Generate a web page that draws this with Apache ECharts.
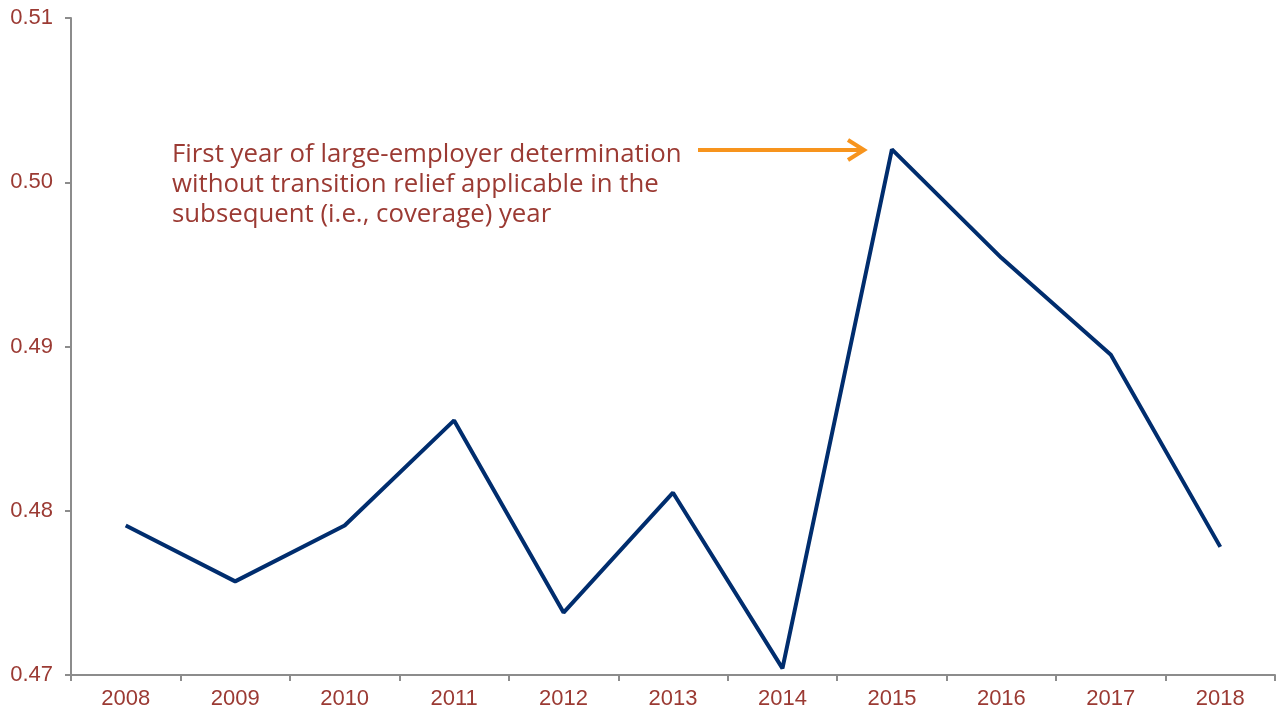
<!DOCTYPE html>
<html>
<head>
<meta charset="utf-8">
<script src="https://cdn.jsdelivr.net/npm/echarts@6/dist/echarts.min.js"></script>
<style>html,body{margin:0;padding:0;background:#fff;}#c{width:1278px;height:715px;}</style>
</head>
<body>
<div id="c"></div>
<script>
var years = ['2008','2009','2010','2011','2012','2013','2014','2015','2016','2017','2018'];
var values = [0.4791, 0.4757, 0.4791, 0.4855, 0.4738, 0.4811, 0.4704, 0.5020, 0.4954, 0.4895, 0.4778];
var annotationLines = ['First year of large-employer determination', 'without transition relief applicable in the', 'subsequent (i.e., coverage) year'];

var chart = echarts.init(document.getElementById('c'));
var textColor = '#9b3a33';
chart.setOption({
  animation: false,
  grid: {left: 71, right: 3, top: 18, bottom: 40},
  xAxis: {
    type: 'category', data: years, boundaryGap: true,
    axisLine: {lineStyle: {color: '#8c8c8c', width: 2}},
    axisTick: {show: true, length: 6, lineStyle: {color: '#8c8c8c', width: 2}},
    axisLabel: {color: textColor, fontSize: 22, fontFamily: 'Liberation Sans', margin: 13}
  },
  yAxis: {
    type: 'value', min: 0.47, max: 0.51, interval: 0.01,
    axisLine: {show: true, lineStyle: {color: '#8c8c8c', width: 2}},
    axisTick: {show: true, length: 6, lineStyle: {color: '#8c8c8c', width: 2}},
    splitLine: {show: false},
    axisLabel: {color: textColor, fontSize: 22, fontFamily: 'Liberation Sans', margin: 18,
      formatter: function(v){ return v.toFixed(2); }}
  },
  series: [{
    type: 'line', data: values, symbol: 'none',
    lineStyle: {color: '#002d6e', width: 4}
  }],
  graphic: [
    {type: 'text', left: 172, top: 140, style: {text: annotationLines.join('\n'), fill: textColor, font: '25.8px "Open Sans"', lineHeight: 30}},
    {type: 'line', shape: {x1: 698, y1: 150, x2: 862, y2: 150}, style: {stroke: '#f7941d', lineWidth: 4}},
    {type: 'polyline', shape: {points: [[848, 140], [864, 150], [848, 160]]}, style: {stroke: '#f7941d', lineWidth: 4, fill: null}}
  ]
});
</script>
</body>
</html>
